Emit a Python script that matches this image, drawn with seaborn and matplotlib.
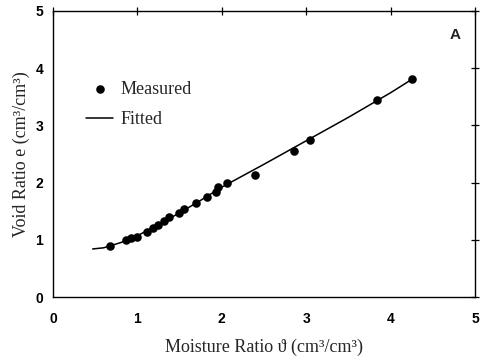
import matplotlib
matplotlib.use("Agg")
import matplotlib.pyplot as plt
import seaborn as sns
import pandas as pd

# measured points
moisture = [0.68, 0.87, 0.93, 1.00, 1.11, 1.18, 1.24, 1.32, 1.38, 1.49, 1.55,
            1.69, 1.82, 1.93, 1.96, 2.06, 2.39, 2.85, 3.05, 3.84, 4.25]
void = [0.89, 1.00, 1.04, 1.05, 1.14, 1.21, 1.26, 1.32, 1.40, 1.47, 1.53,
        1.65, 1.75, 1.84, 1.93, 2.00, 2.14, 2.56, 2.74, 3.44, 3.81]

# fitted curve
fit_x = [0.47, 0.60, 0.80, 1.00, 1.25, 1.50, 1.75, 2.00, 2.50, 3.00, 3.50, 4.00, 4.28]
fit_y = [0.84, 0.86, 0.95, 1.07, 1.27, 1.47, 1.69, 1.92, 2.32, 2.73, 3.14, 3.57, 3.83]

ticks = [0, 1, 2, 3, 4, 5]

meas = pd.DataFrame({"x": moisture, "y": void})
fit = pd.DataFrame({"x": fit_x, "y": fit_y})

sns.set_style("white")
serif = ["Liberation Serif", "DejaVu Serif"]

fig = plt.figure(figsize=(4.83, 3.64), dpi=100)
ax = fig.add_axes([0.1097, 0.184, 0.8737, 0.786])

sns.lineplot(data=fit, x="x", y="y", color="black", linewidth=1.1, ax=ax, label="Fitted")
sns.scatterplot(data=meas, x="x", y="y", color="black", marker="o", s=38,
                edgecolor="black", linewidth=0, ax=ax, label="Measured", zorder=3)

ax.set_xlim(0, 5)
ax.set_ylim(0, 5)
ax.set_xticks(ticks)
ax.set_yticks(ticks)
ax.set_xticklabels([str(t) for t in ticks], fontweight="bold", family="Liberation Sans", fontsize=10)
ax.set_yticklabels([str(t) for t in ticks], fontweight="bold", family="Liberation Sans", fontsize=10)
ax.tick_params(direction="inout", length=6, width=0.9, top=True, right=True,
               colors="black")
ax.tick_params(axis="x", pad=8)
ax.tick_params(axis="y", pad=4)
for sp in ax.spines.values():
    sp.set_color("black")
    sp.set_linewidth(1.0)
    sp.set_visible(True)

ax.set_xlabel("Moisture Ratio ϑ (cm³/cm³)", family=serif, fontsize=13, labelpad=9)
ax.set_ylabel("Void Ratio e (cm³/cm³)", family=serif, fontsize=13, labelpad=4)

ax.text(0.953, 0.916, "A", transform=ax.transAxes, ha="center", va="center",
        fontweight="bold", family="Liberation Sans", fontsize=11)

handles, labels = ax.get_legend_handles_labels()
order = [labels.index("Measured"), labels.index("Fitted")]
ax.legend([handles[i] for i in order], [labels[i] for i in order],
          loc="upper left", bbox_to_anchor=(0.04, 0.813), frameon=False,
          prop={"family": serif, "size": 13}, handlelength=1.5,
          handletextpad=0.4, labelspacing=0.75)

fig.savefig("out.png", dpi=100)
